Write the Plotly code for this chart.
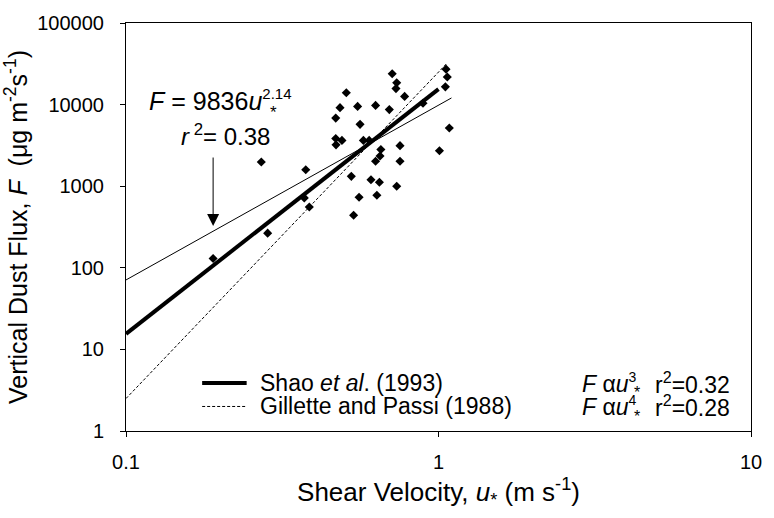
import math
import plotly.graph_objects as go

# ---- data ----
u_star = [0.711, 0.735, 0.731, 0.507, 0.779, 1.057, 1.067, 1.052, 0.484, 0.551,
          0.629, 0.696, 0.892, 0.469, 0.561, 1.083, 0.469, 0.491, 0.470, 0.575,
          0.600, 0.654, 0.753, 1.007, 0.271, 0.376, 0.650, 0.629, 0.753, 0.526,
          0.608, 0.647, 0.735, 0.557, 0.635, 0.372, 0.535, 0.386, 0.284, 0.190]
flux = [23900, 18500, 15700, 14000, 12600, 27200, 21800, 16500, 9180, 9510,
        9780, 8690, 10400, 6830, 5730, 5170, 3850, 3640, 3210, 3640,
        3640, 2820, 3140, 2720, 1980, 1590, 2340, 2020, 2020, 1320,
        1200, 1120, 1000, 731, 773, 719, 441, 555, 266, 130]

# fitted lines (end points)
fit_x = [0.1, 1.1]
fit_y = [71, 12060]          # F = 9836 u*^2.14
shao_x = [0.1, 1.0]
shao_y = [15.5, 15500]       # F ~ u*^3
gp_x = [0.1, 1.06]
gp_y = [2.5, 31600]          # F ~ u*^4

x_ticks = [0.1, 1, 10]
x_ticklabels = ["0.1", "1", "10"]
y_ticks = [1, 10, 100, 1000, 10000, 100000]
y_ticklabels = ["1", "10", "100", "1000", "10000", "100000"]

FONT = "Liberation Sans, Arial, sans-serif"
W, H = 774, 518
L, R, T, B = 123, 19, 15, 87


def px(xp):
    return (xp - L) / (W - L - R)


def py(yp):
    return (H - B - yp) / (H - T - B)


fig = go.Figure()
fig.add_trace(go.Scatter(x=fit_x, y=fit_y, mode="lines",
                         line=dict(color="black", width=1), showlegend=False))
fig.add_trace(go.Scatter(x=gp_x, y=gp_y, mode="lines",
                         line=dict(color="black", width=1, dash="3px,2px"),
                         showlegend=False))
fig.add_trace(go.Scatter(x=shao_x, y=shao_y, mode="lines",
                         line=dict(color="black", width=4), showlegend=False))
fig.add_trace(go.Scatter(x=u_star, y=flux, mode="markers",
                         marker=dict(symbol="diamond", size=7, color="black"),
                         showlegend=False))

ann = []
# equation
ann.append(dict(xref="paper", yref="paper", x=px(144), y=py(93), xanchor="left",
                yanchor="middle", showarrow=False,
                text="<i>F</i> = 9836<i>u</i><sup><span style='font-size:15px'>2.14</span></sup>",
                font=dict(size=25, family=FONT, color="black")))
ann.append(dict(xref="paper", yref="paper", x=px(272), y=py(106), xanchor="center",
                yanchor="middle", showarrow=False, text="*",
                font=dict(size=17, family=FONT, color="black")))
ann.append(dict(xref="paper", yref="paper", x=px(177), y=py(129), xanchor="left",
                yanchor="middle", showarrow=False,
                text="<i>r</i><sup> 2</sup>= 0.38",
                font=dict(size=24, family=FONT, color="black")))
# arrow
ann.append(dict(xref="x", yref="y", x=math.log10(0.19), y=2.512, ax=0, ay=-70,
                showarrow=True, arrowhead=2, arrowsize=2.4, arrowwidth=1,
                arrowcolor="black", text=""))

# legend rows
rows = [
    (382, "Shao <i>et al</i>. (1993)", "3", "r<sup>2</sup>=0.32", dict(width=4, dash="solid")),
    (406, "Gillette and Passi (1988)", "4", "r<sup>2</sup>=0.28", dict(width=1, dash="3px,2px")),
]
shapes = []
for yy, name, power, r2, ls in rows:
    shapes.append(dict(type="line", xref="paper", yref="paper",
                       x0=px(200), x1=px(245), y0=py(yy), y1=py(yy),
                       line=dict(color="black", **ls)))
    ann.append(dict(xref="paper", yref="paper", x=px(256), y=py(yy), xanchor="left",
                    yanchor="middle", showarrow=False, text=name,
                    font=dict(size=23, family=FONT, color="black")))
    ann.append(dict(xref="paper", yref="paper", x=px(582), y=py(yy), xanchor="left",
                    yanchor="middle", showarrow=False,
                    text="<i>F</i> α<i>u</i><sup><span style='font-size:14px'>" + power + "</span></sup>",
                    font=dict(size=23, family=FONT, color="black")))
    ann.append(dict(xref="paper", yref="paper", x=px(640), y=py(yy + 10), xanchor="center",
                    yanchor="middle", showarrow=False, text="*",
                    font=dict(size=16, family=FONT, color="black")))
    ann.append(dict(xref="paper", yref="paper", x=px(656), y=py(yy), xanchor="left",
                    yanchor="middle", showarrow=False, text=r2,
                    font=dict(size=23, family=FONT, color="black")))

fig.update_layout(
    width=W, height=H,
    margin=dict(l=L, r=R, t=T, b=B),
    paper_bgcolor="white", plot_bgcolor="white",
    font=dict(family=FONT, size=20, color="black"),
    annotations=ann, shapes=shapes, showlegend=False,
)
fig.update_xaxes(type="log", range=[-1, 1], tickvals=x_ticks, ticktext=x_ticklabels,
                 showgrid=False, zeroline=False, showline=True, linecolor="black",
                 linewidth=1, mirror=True, ticks="outside", ticklen=5,
                 tickcolor="black", ticklabelstandoff=8,
                 title=dict(text="Shear Velocity, <i>u</i><sub>*</sub> (m s<sup>-1</sup>)",
                            font=dict(size=26), standoff=10))
fig.update_yaxes(type="log", range=[0, 5], tickvals=y_ticks, ticktext=y_ticklabels,
                 showgrid=False, zeroline=False, showline=True, linecolor="black",
                 linewidth=1, mirror=True, ticks="outside", ticklen=5,
                 tickcolor="black", ticklabelstandoff=12,
                 title=dict(text="Vertical Dust Flux, <i>F</i>  (μg m<sup>-2</sup>s<sup>-1</sup>)",
                            font=dict(size=25), standoff=8))

fig.write_html("out.html")
